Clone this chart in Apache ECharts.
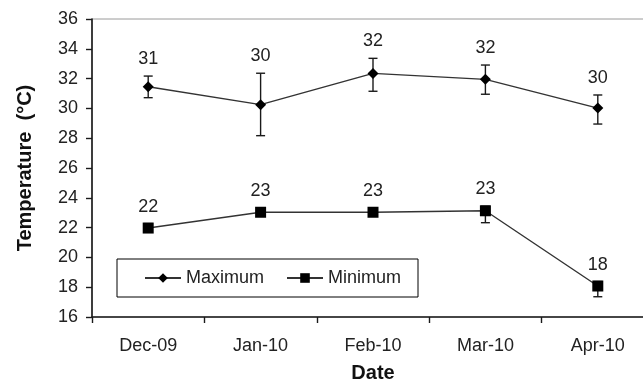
<!DOCTYPE html>
<html>
<head>
<meta charset="utf-8">
<script src="https://cdn.jsdelivr.net/npm/echarts@6/dist/echarts.min.js"></script>
<style>
  html, body { margin: 0; padding: 0; background: #fff; }
  #chart { width: 643px; height: 379px; }
</style>
</head>
<body>
<div id="chart"></div>
<script>
// Monthly temperature, Dec 2009 – Apr 2010
const months = ['Dec-09', 'Jan-10', 'Feb-10', 'Mar-10', 'Apr-10'];
const yTicks = [16, 18, 20, 22, 24, 26, 28, 30, 32, 34, 36];

const maxTemp = [31.45, 30.25, 32.35, 31.95, 30.02];
const maxHigh = [32.17, 32.36, 33.36, 32.91, 30.90];
const maxLow  = [30.72, 28.17, 31.15, 30.95, 28.95];

const minTemp = [21.97, 23.03, 23.03, 23.13, 18.08];
const minHigh = [22.27, 23.33, 23.33, 23.43, 18.38];
const minLow  = [21.80, 22.90, 22.90, 22.33, 17.36];

const ink = '#1a1a1a';
const font = '"Liberation Sans", Arial, sans-serif';

// error bar + rounded value label drawn at each month
function errorSeries(name, values, lows, highs) {
  const rows = values.map((v, i) => [i, lows[i], highs[i], v]);
  return {
    type: 'custom',
    name: name + ' range',
    data: rows,
    z: 1,
    silent: true,
    renderItem: function (params, api) {
      const i = api.value(0);
      const lo = api.coord([i, api.value(1)]);
      const hi = api.coord([i, api.value(2)]);
      const cap = 4.5;
      const lineStyle = { stroke: ink, lineWidth: 1.4 };
      return {
        type: 'group',
        children: [
          { type: 'line', shape: { x1: lo[0], y1: lo[1], x2: hi[0], y2: hi[1] }, style: lineStyle },
          { type: 'line', shape: { x1: hi[0] - cap, y1: hi[1], x2: hi[0] + cap, y2: hi[1] }, style: lineStyle },
          { type: 'line', shape: { x1: lo[0] - cap, y1: lo[1], x2: lo[0] + cap, y2: lo[1] }, style: lineStyle },
          {
            type: 'text',
            style: {
              x: hi[0], y: hi[1] - 17,
              text: String(Math.round(api.value(3))),
              textAlign: 'center', textVerticalAlign: 'middle',
              fill: '#222', font: '18px ' + font
            }
          }
        ]
      };
    }
  };
}

const chart = echarts.init(document.getElementById('chart'), null, { renderer: 'canvas' });

chart.setOption({
  animation: false,
  backgroundColor: '#fff',
  textStyle: { fontFamily: font },
  grid: {
    left: 92, top: 19, width: 562, height: 298,
    outerBoundsMode: 'none',
    containLabel: false,
    show: true, borderColor: '#9a9a9a', borderWidth: 1, backgroundColor: 'transparent'
  },
  legend: {
    left: 117, top: 259,
    padding: [10, 17, 10, 27],
    borderColor: '#000', borderWidth: 1,
    itemWidth: 36, itemHeight: 12, itemGap: 22,
    textStyle: { fontSize: 18, color: '#222', fontFamily: font },
    data: ['Maximum', 'Minimum']
  },
  xAxis: {
    type: 'category',
    data: months,
    boundaryGap: true,
    name: 'Date',
    nameLocation: 'middle',
    nameGap: 46,
    nameTextStyle: { fontSize: 20, fontWeight: 'bold', color: '#111', fontFamily: font },
    axisLine: { lineStyle: { color: ink, width: 1.6 } },
    axisTick: { show: true, alignWithLabel: false, length: 6, lineStyle: { color: ink, width: 1.4 } },
    axisLabel: { fontSize: 18, color: '#222', margin: 20, fontFamily: font },
    splitLine: { show: false }
  },
  yAxis: {
    type: 'value',
    min: yTicks[0],
    max: yTicks[yTicks.length - 1],
    interval: yTicks[1] - yTicks[0],
    name: 'Temperature  (°C)',
    nameLocation: 'middle',
    nameGap: 57,
    nameTextStyle: { fontSize: 20, fontWeight: 'bold', color: '#111', fontFamily: font },
    axisLine: { show: true, lineStyle: { color: ink, width: 1.6 } },
    axisTick: { show: true, length: 6, lineStyle: { color: ink, width: 1.4 } },
    axisLabel: { fontSize: 18, color: '#222', margin: 14, fontFamily: font },
    splitLine: { show: false }
  },
  series: [
    errorSeries('Maximum', maxTemp, maxLow, maxHigh),
    errorSeries('Minimum', minTemp, minLow, minHigh),
    {
      name: 'Maximum',
      type: 'line',
      data: maxTemp,
      z: 3,
      symbol: 'diamond',
      symbolSize: 11,
      itemStyle: { color: '#000' },
      lineStyle: { color: '#333', width: 1.4 }
    },
    {
      name: 'Minimum',
      type: 'line',
      data: minTemp,
      z: 3,
      symbol: 'rect',
      symbolSize: 11,
      itemStyle: { color: '#000' },
      lineStyle: { color: '#333', width: 1.4 }
    }
  ]
});
</script>
</body>
</html>
